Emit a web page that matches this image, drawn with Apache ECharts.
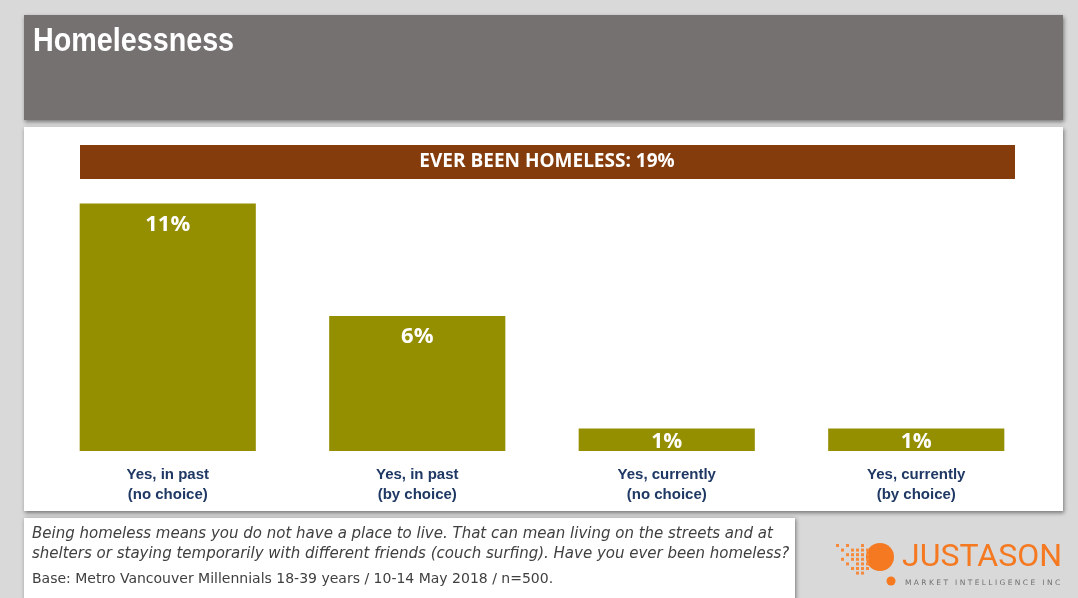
<!DOCTYPE html>
<html><head><meta charset="utf-8">
<script src="https://cdn.jsdelivr.net/npm/echarts@6/dist/echarts.min.js"></script>
<style>html,body{margin:0;padding:0;background:#d9d9d9;}#c{width:1078px;height:598px;}</style>
</head><body><div id="c"></div>
<script>
const title = 'Homelessness';
const banner = 'EVER BEEN HOMELESS: 19%';
const categories = ['Yes, in past\n(no choice)', 'Yes, in past\n(by choice)', 'Yes, currently\n(no choice)', 'Yes, currently\n(by choice)'];
const values = [11, 6, 1, 1];
const footerQuestion = ['Being homeless means you do not have a place to live. That can mean living on the streets and at', 'shelters or staying temporarily with different friends (couch surfing). Have you ever been homeless?'];
const footerBase = 'Base: Metro Vancouver Millennials 18-39 years / 10-14 May 2018 / n=500.';

const chart = echarts.init(document.getElementById('c'));

// decorative logo dot pattern (grid cells, 1 = dot)
const dotPattern = [
  '1.1..1.',
  '.1.1111',
  '..11111',
  '.1.1111',
  '..1.111',
  '...1111',
  '....11.'
];
const logoGraphics = [];
dotPattern.forEach((row, r) => row.split('').forEach((ch, c) => {
  if (ch === '1') logoGraphics.push({type:'rect', shape:{x:836 + c*5, y:544 + r*4.6, width:3, height:3}, style:{fill:'#f58a3c'}});
}));

chart.setOption({
  backgroundColor: '#d9d9d9',
  animation: false,
  graphic: [
    {type:'rect', shape:{x:24,y:15,width:1039,height:105}, style:{fill:'#767171', shadowBlur:4, shadowOffsetX:1, shadowOffsetY:2, shadowColor:'rgba(0,0,0,0.45)'}, z:-10},
    {type:'text', x:33, y:42, scaleX:0.87, style:{text:title, fill:'#ffffff', verticalAlign:'middle', font:'bold 33px "Liberation Sans", Arial, sans-serif'}},
    {type:'rect', shape:{x:24,y:127,width:1039,height:384}, style:{fill:'#ffffff', shadowBlur:4, shadowOffsetX:1, shadowOffsetY:2, shadowColor:'rgba(0,0,0,0.45)'}, z:-10},
    {type:'rect', shape:{x:80,y:145,width:935,height:34}, style:{fill:'#843c0c'}, z:-5},
    {type:'text', x:547, y:162, style:{text:banner, fill:'#ffffff', align:'center', verticalAlign:'middle', font:'bold 19px "Open Sans", "Liberation Sans", sans-serif'}},
    {type:'rect', shape:{x:24,y:518,width:771,height:90}, style:{fill:'#ffffff', shadowBlur:4, shadowOffsetX:1, shadowOffsetY:1, shadowColor:'rgba(0,0,0,0.45)'}, z:-10},
    {type:'text', left:32, top:524, style:{text:footerQuestion.join('\n'), fill:'#404040', lineHeight:20, font:'oblique 15px "DejaVu Sans", sans-serif'}},
    {type:'text', left:32, top:572, style:{text:footerBase, fill:'#404040', font:'14px "DejaVu Sans", sans-serif'}},
    {type:'circle', shape:{cx:880,cy:557,r:14}, style:{fill:'#f47920'}},
    ...logoGraphics,
    {type:'circle', shape:{cx:891,cy:581,r:4.5}, style:{fill:'#f47920'}},
    {type:'text', left:902, top:542, style:{text:'JUSTASON', fill:'#f47920', font:'32px "Roboto", "Liberation Sans", sans-serif'}},
    {type:'text', left:905, top:579, style:{text:'M A R K E T   I N T E L L I G E N C E   I N C', fill:'#707070', font:'7.5px "DejaVu Sans", sans-serif'}}
  ],
  grid: {left:43, right:37, top:181, bottom:147},
  xAxis: {
    type:'category', data:categories,
    axisLine:{show:false}, axisTick:{show:false},
    axisLabel:{color:'#1f3864', fontWeight:'bold', fontSize:15, lineHeight:20, margin:14, interval:0,
      fontFamily:'"Liberation Sans Narrow", "Liberation Sans", Arial, sans-serif'}
  },
  yAxis: {type:'value', min:0, max:12, show:false, splitLine:{show:false}},
  series: [{
    type:'bar', barWidth:'70.6%',
    data: values.map(v => v <= 1 ? {value:v, label:{distance:3, fontSize:21}} : {value:v}),
    itemStyle:{color:'#948f00'},
    label:{show:true, position:'insideTop', distance:10, color:'#ffffff', fontWeight:'bold', fontSize:22,
      fontFamily:'"Open Sans", "Liberation Sans", sans-serif', formatter:'{c}%'}
  }]
});
</script></body></html>
